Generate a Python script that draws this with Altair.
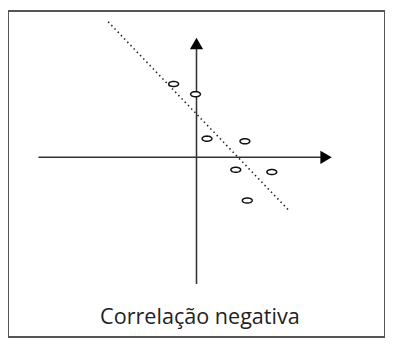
import math
import altair as alt
import pandas as pd

# scatter points (data units, origin at axis crossing)
px = [-2.33, -0.1, 1.07, 4.93, 4.0, 7.67, 5.17]
py = [7.47, 6.43, 1.9, 1.63, -1.27, -1.5, -4.4]

# dotted trend line endpoints
lx = [-9.0, 9.5]
ly = [13.8, -5.5]

# axes extents
h_axis_x = [-16.1, 13.2]
v_axis_y = [-12.9, 11.6]

title_text = ["Correlação negativa"]

XD = [-19.2, 19.2]
YD = [-18.3, 14.9]

xs = alt.Scale(domain=XD, nice=False, zero=False)
ys = alt.Scale(domain=YD, nice=False, zero=False)

# ellipse symbol path (unit box)
n = 32
pts = [(math.cos(2 * math.pi * i / n), 0.52 * math.sin(2 * math.pi * i / n)) for i in range(n)]
ellipse = "M" + "L".join(f"{a:.3f},{b:.3f}" for a, b in pts) + "Z"

pts_df = pd.DataFrame({"x": px, "y": py})
line_df = pd.DataFrame({"x": lx, "y": ly})
haxis_df = pd.DataFrame({"x": [h_axis_x[0]], "x2": [h_axis_x[1]], "y": [0]})
vaxis_df = pd.DataFrame({"x": [0], "y": [v_axis_y[0]], "y2": [v_axis_y[1]]})
harrow_df = pd.DataFrame({"x": [h_axis_x[1]], "y": [0]})
varrow_df = pd.DataFrame({"x": [0], "y": [v_axis_y[1]]})
title_df = pd.DataFrame({"x": [0.35], "y": [-16.3], "t": title_text})

noax = None

hax = alt.Chart(haxis_df).mark_rule(color="#333", strokeWidth=1.6).encode(
    x=alt.X("x:Q", scale=xs, axis=noax), x2="x2:Q", y=alt.Y("y:Q", scale=ys, axis=noax)
)
vax = alt.Chart(vaxis_df).mark_rule(color="#333", strokeWidth=1.6).encode(
    x=alt.X("x:Q", scale=xs, axis=noax), y=alt.Y("y:Q", scale=ys, axis=noax), y2="y2:Q"
)
harrow = alt.Chart(harrow_df).mark_point(
    shape="triangle-right", size=180, filled=True, color="#000", opacity=1
).encode(x=alt.X("x:Q", scale=xs, axis=noax), y=alt.Y("y:Q", scale=ys, axis=noax))
varrow = alt.Chart(varrow_df).mark_point(
    shape="triangle-up", size=180, filled=True, color="#000", opacity=1
).encode(x=alt.X("x:Q", scale=xs, axis=noax), y=alt.Y("y:Q", scale=ys, axis=noax))

trend = alt.Chart(line_df).mark_line(
    color="#222", strokeWidth=1.6, strokeDash=[1.5, 3.2]
).encode(x=alt.X("x:Q", scale=xs, axis=noax), y=alt.Y("y:Q", scale=ys, axis=noax))

points = alt.Chart(pts_df).mark_point(
    shape=ellipse, size=100, filled=False, color="#111", strokeWidth=1.5, opacity=1, fill="white", fillOpacity=1
).encode(x=alt.X("x:Q", scale=xs, axis=noax), y=alt.Y("y:Q", scale=ys, axis=noax))

title = alt.Chart(title_df).mark_text(
    font="Open Sans", fontSize=22, color="#222", align="center", baseline="middle"
).encode(x=alt.X("x:Q", scale=xs, axis=noax), y=alt.Y("y:Q", scale=ys, axis=noax), text="t:N")

chart = alt.layer(hax, vax, trend, points, harrow, varrow, title).properties(
    width=384, height=332, padding=0,
    autosize=alt.AutoSizeParams(type="none")
).configure_view(stroke="#555", strokeWidth=2)

chart.save("out.html", embed_options={"renderer": "svg", "actions": False})
